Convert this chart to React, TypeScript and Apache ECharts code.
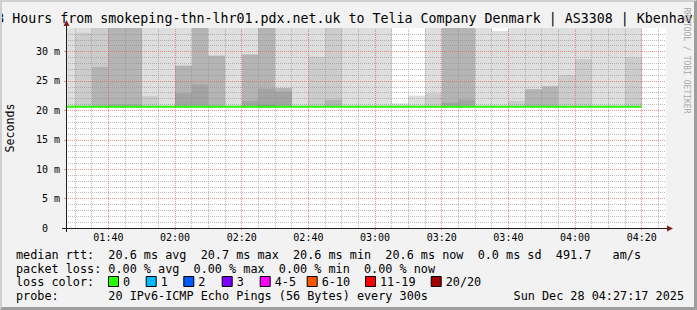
import React, { useEffect, useRef } from 'react';
import * as echarts from 'echarts';

// ---- data ----
const columnBounds = [
  '01:27:17', '01:30', '01:35', '01:40', '01:45', '01:50', '01:55', '02:00', '02:05', '02:10',
  '02:15', '02:20', '02:25', '02:30', '02:35', '02:40', '02:45', '02:50', '02:55', '03:00',
  '03:05', '03:10', '03:15', '03:20', '03:25', '03:30', '03:35', '03:40', '03:45', '03:50',
  '03:55', '04:00', '04:05', '04:10', '04:15', '04:20',
];
const rangeStart = '01:27:17';
const rangeEnd = '04:27:17';

// smoke: lower edge and tops of each shade band (ms), null = no band
const smokeLow = [
  20.5, 20.5, 20.5, 20.5, 20.5, 20.5, 20.5, 20.5, 20.5, 20.5, 20.5, 20.5, 20.5, 20.5, 20.5, 20.5, 20.5, 20.5,
  20.5, 20.5, 20.5, 20.5, 20.5, 20.5, 20.5, 20.5, 20.5, 20.5, 20.5, 20.5, 20.5, 20.5, 20.5, 20.5, 20.5,
];
const shade1 = [
  36, 36, null, null, null, 36, 36, 36, null, 36, 36, 36, null, 36, 36, 36, null, 36,
  36, 36, 21.2, 22.5, 36, null, null, 36, 33.5, 36, 36, 36, 36, 36, 36, 36, 36,
];
const shade2 = [
  null, 33.2, 36, null, null, 22.4, null, null, null, null, null, null, null, null, null, 29.1, 36, null,
  null, null, null, null, 22.9, null, null, null, null, 21.6, null, null, 26.0, 28.7, null, null, 29.0,
];
const shade3 = [
  null, null, 27.4, 36, 36, null, null, 27.6, 36, 29.3, null, 29.5, 36, 23.8, null, null, 21.8, null,
  null, null, null, null, null, 36, 36, null, null, null, 23.6, 24.1, null, null, null, null, null,
];
const shade4 = [
  null, null, null, 21.0, 21.0, null, null, 22.9, 24.4, null, null, 21.6, 23.7, 23.2, null, null, null, null,
  null, null, null, null, null, 21.3, 21.8, null, null, null, null, null, null, null, null, null, null,
];
const shade5 = [
  null, null, null, null, null, null, null, null, null, null, null, null, 20.9, null, null, null, null, null,
  null, null, null, null, null, null, null, null, null, null, null, null, null, null, null, null, null,
];
const medianRtt = [
  20.6, 20.6, 20.6, 20.6, 20.6, 20.6, 20.6, 20.6, 20.6, 20.6, 20.6, 20.6, 20.6, 20.6, 20.6, 20.6, 20.6, 20.6,
  20.6, 20.6, 20.6, 20.6, 20.6, 20.6, 20.6, 20.6, 20.6, 20.6, 20.6, 20.6, 20.6, 20.6, 20.6, 20.6, 20.6,
];

const xTickLabels = ['01:40', '02:00', '02:20', '02:40', '03:00', '03:20', '03:40', '04:00', '04:20'];
const xMinorLabels = [
  '01:30', '01:35', '01:45', '01:50', '01:55', '02:05', '02:10', '02:15', '02:25', '02:30', '02:35',
  '02:45', '02:50', '02:55', '03:05', '03:10', '03:15', '03:25', '03:30', '03:35', '03:45', '03:50',
  '03:55', '04:05', '04:10', '04:15', '04:25',
];
const yTickValues = [0, 5, 10, 15, 20, 25, 30];
const yMinorValues = [1, 2, 3, 4, 6, 7, 8, 9, 11, 12, 13, 14, 16, 17, 18, 19, 21, 22, 23, 24, 26, 27, 28, 29, 31, 32, 33];
const yMax = 34;

const titleText = '3 Hours from smokeping-thn-lhr01.pdx.net.uk to Telia Company Denmark | AS3308 | Kbenhavn';
const legendLine1 = 'median rtt:  20.6 ms avg  20.7 ms max  20.6 ms min  20.6 ms now  0.0 ms sd  491.7   am/s';
const legendLine2 = 'packet loss: 0.00 % avg  0.00 % max  0.00 % min  0.00 % now';
const legendLine3 = 'loss color:';
const legendLine4 = 'probe:       20 IPv6-ICMP Echo Pings (56 Bytes) every 300s';
const dateText = 'Sun Dec 28 04:27:17 2025';
const lossLabels = ['0', '1', '2', '3', '4-5', '6-10', '11-19', '20/20'];
const lossColors = ['#26ff00', '#00b8ff', '#0059ff', '#7e00ff', '#ff00ff', '#ff5500', '#ff0000', '#a10000'];

// ---- layout / style ----
const lossBoxX = [108, 145.7, 183.3, 221.7, 259.7, 306.7, 365, 430.7];
const shadeColors = ['#dedede', '#cccccc', '#b4b4b4', '#a4a4a4', '#8a8a8a'];
const MONO = "'DejaVu Sans Mono', monospace";
const GRID_MINOR = 'rgba(143,143,143,0.6)';
const GRID_MAJOR = 'rgba(222,79,79,0.6)';
const ARROW = '#801f1f';
const AXIS = '#1f1f1f';

const toMin = (s: string) => {
  const p = s.split(':').map(Number);
  return p[0] * 60 + p[1] + (p[2] || 0) / 60;
};
const fmtTime = (v: number) => {
  const m = Math.round(v);
  const h = Math.floor(m / 60);
  const mm = m % 60;
  return `${String(h).padStart(2, '0')}:${String(mm).padStart(2, '0')}`;
};

export default function App() {
  const ref = useRef<HTMLDivElement>(null);
  useEffect(() => {
    if (!ref.current) return;
    const chart = echarts.init(ref.current, undefined, { renderer: 'svg' });
    const bounds = columnBounds.map(toMin);
    const shades = [shade1, shade2, shade3, shade4, shade5];
    const smokeSeries = shades.map((arr, li) => {
      const data: number[][] = [];
      arr.forEach((top, i) => {
        if (top != null) data.push([bounds[i], bounds[i + 1], smokeLow[i], top]);
      });
      return {
        type: 'custom',
        name: 'smoke' + li,
        clip: true,
        silent: true,
        z: 1,
        encode: { x: [0, 1], y: [2, 3] },
        data,
        renderItem: (params: any, api: any) => {
          const p0 = api.coord([api.value(0), api.value(3)]);
          const p1 = api.coord([api.value(1), api.value(2)]);
          const x0 = Math.round(p0[0]);
          const x1 = Math.round(p1[0]);
          return {
            type: 'rect',
            shape: { x: x0, y: p0[1], width: x1 - x0, height: p1[1] - p0[1] },
            style: { fill: shadeColors[li] },
          };
        },
      };
    });
    const medianData: number[][] = medianRtt.map((m, i) => [bounds[i], m]);
    medianData.push([bounds[bounds.length - 1], medianRtt[medianRtt.length - 1]]);

    const xTicks = xTickLabels.map(toMin);
    const xMinor = xMinorLabels.map(toMin);

    const gridLine = (name: string, color: string, xs: number[], ys: number[]) => ({
      type: 'line',
      name,
      data: [],
      silent: true,
      z: 2,
      markLine: {
        silent: true,
        symbol: ['none', 'none'],
        label: { show: false },
        animation: false,
        lineStyle: { type: [1, 1], width: 1, color },
        emphasis: { disabled: true },
        data: [...xs.map((v) => ({ xAxis: v })), ...ys.map((v) => ({ yAxis: v }))],
      },
    });

    const textStyle = (text: string, x: number, y: number, extra: any = {}) => ({
      type: 'text',
      x,
      y,
      silent: true,
      style: {
        text,
        fill: '#000',
        font: `11.8px ${MONO}`,
        verticalAlign: 'middle',
        ...extra,
      },
    });

    const graphics: any[] = [
      {
        type: 'text',
        x: 348.5,
        y: 18,
        silent: true,
        style: { text: titleText, fill: '#000', font: `13.3px ${MONO}`, align: 'center', verticalAlign: 'middle' },
      },
      {
        type: 'text',
        x: 686,
        y: 60.5,
        rotation: -Math.PI / 2,
        silent: true,
        style: { text: 'RRDTOOL / TOBI OETIKER', fill: '#a8a8a8', font: `8px ${MONO}`, align: 'center', verticalAlign: 'middle' },
      },
      // axes
      { type: 'line', silent: true, z: 10, shape: { x1: 66.5, y1: 232, x2: 66.5, y2: 25 }, style: { stroke: AXIS, lineWidth: 1 } },
      { type: 'line', silent: true, z: 10, shape: { x1: 62, y1: 228.5, x2: 668, y2: 228.5 }, style: { stroke: AXIS, lineWidth: 1 } },
      { type: 'polygon', silent: true, z: 10, shape: { points: [[63.5, 26], [69.5, 26], [66.5, 20]] }, style: { fill: ARROW } },
      { type: 'polygon', silent: true, z: 10, shape: { points: [[667, 225.5], [667, 231.5], [673, 228.5]] }, style: { fill: ARROW } },
      // legend
      textStyle(legendLine1, 16, 254.5),
      textStyle(legendLine2, 16, 268.5),
      textStyle(legendLine3, 16, 282),
      textStyle(legendLine4, 16, 296),
      textStyle(dateText, 684, 296, { align: 'right' }),
    ];
    lossLabels.forEach((lab, i) => {
      graphics.push({
        type: 'rect',
        silent: true,
        shape: { x: lossBoxX[i] + 0.5, y: 276.5, width: 10, height: 10 },
        style: { fill: lossColors[i], stroke: '#000', lineWidth: 1 },
      });
      graphics.push(textStyle(lab, lossBoxX[i] + 15, 282));
    });

    chart.setOption({
      animation: false,
      backgroundColor: 'transparent',
      grid: {
        left: 66,
        top: 28,
        width: 600,
        height: 200,
        show: true,
        backgroundColor: '#ffffff',
        borderWidth: 0,
        containLabel: false,
        outerBoundsMode: 'none',
      },
      xAxis: {
        type: 'value',
        min: toMin(rangeStart),
        max: toMin(rangeEnd),
        axisLine: { show: false },
        splitLine: { show: false },
        axisTick: { show: true, customValues: xTicks, length: 2, lineStyle: { color: GRID_MAJOR } },
        axisLabel: {
          customValues: xTicks,
          formatter: (v: number) => fmtTime(v),
          fontFamily: MONO,
          fontSize: 10,
          color: '#000',
          margin: 4,
        },
      },
      yAxis: {
        type: 'value',
        min: 0,
        max: yMax,
        name: 'Seconds',
        nameLocation: 'middle',
        nameGap: 50,
        nameRotate: 90,
        nameTextStyle: { fontFamily: MONO, fontSize: 11.6, color: '#000' },
        axisLine: { show: false },
        splitLine: { show: false },
        axisTick: { show: true, customValues: yTickValues, length: 2, lineStyle: { color: GRID_MAJOR } },
        axisLabel: {
          customValues: yTickValues,
          formatter: (v: number) => (v === 0 ? '0\u00a0\u00a0' : `${v} m`),
          fontFamily: MONO,
          fontSize: 10,
          color: '#000',
          margin: 6,
        },
      },
      series: [
        ...smokeSeries,
        gridLine('gridMinor', GRID_MINOR, xMinor, yMinorValues),
        gridLine('gridMajor', GRID_MAJOR, xTicks, yTickValues.filter((v) => v > 0)),
        {
          type: 'line',
          name: 'median',
          step: 'end',
          data: medianData,
          showSymbol: false,
          silent: true,
          clip: true,
          z: 3,
          lineStyle: { color: '#26ff00', width: 2 },
        },
      ],
      graphic: graphics,
    });
    return () => chart.dispose();
  }, []);

  return (
    <div style={{ position: 'fixed', left: 0, top: 0, width: 697, height: 310, background: '#f2f2f2' }}>
      <div ref={ref} style={{ position: 'absolute', left: 0, top: 0, width: 697, height: 310 }} />
      <div
        style={{
          position: 'absolute',
          left: 0,
          top: 0,
          width: 697,
          height: 310,
          boxSizing: 'border-box',
          borderTop: '2px solid #cfcfcf',
          borderLeft: '2px solid #cfcfcf',
          borderRight: '3px solid #9e9e9e',
          borderBottom: '3px solid #9e9e9e',
          pointerEvents: 'none',
        }}
      />
    </div>
  );
}
